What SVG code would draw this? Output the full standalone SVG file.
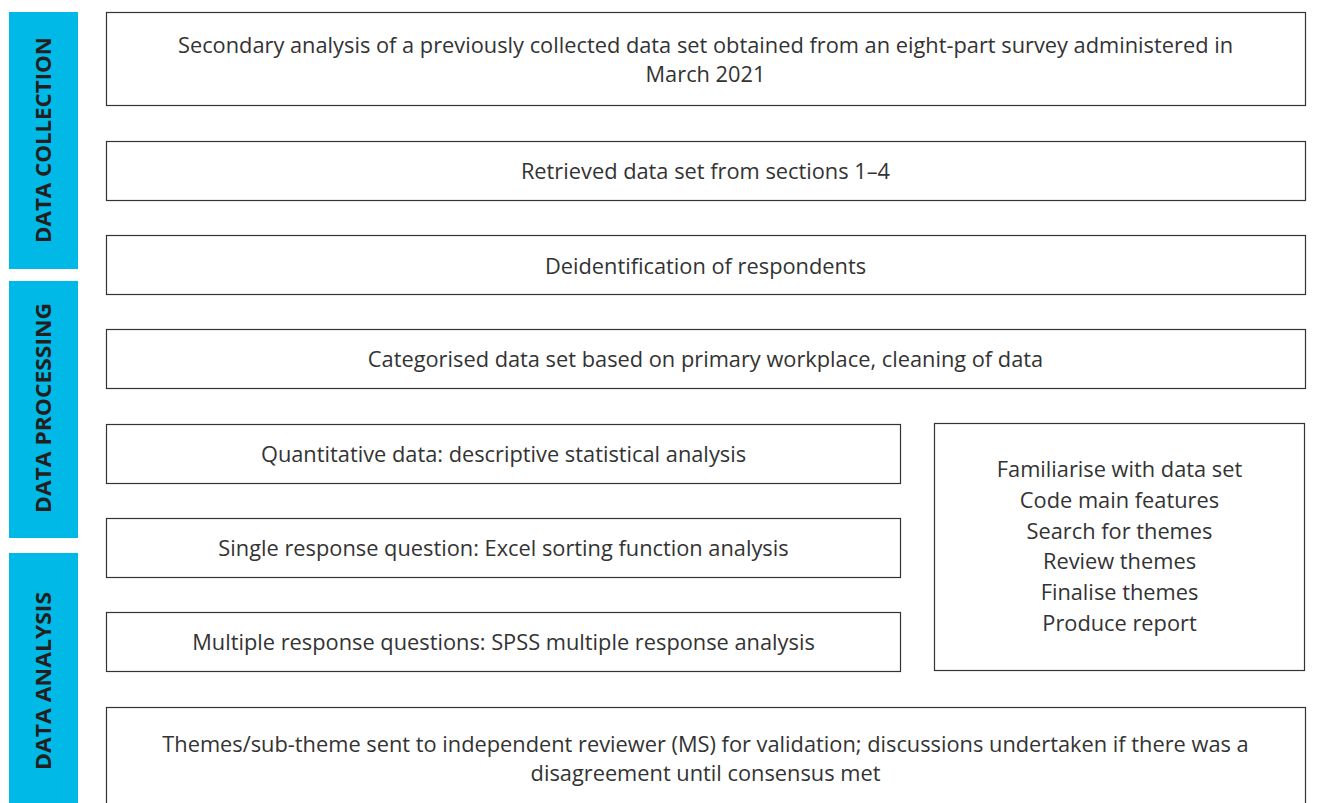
<svg xmlns="http://www.w3.org/2000/svg" width="1334" height="803" viewBox="0 0 1334 803">
<style>
.bar{fill:#00B9E7}
.lab{font-family:"Open Sans","Liberation Sans",sans-serif;font-weight:bold;font-size:21px;fill:#231f20;text-anchor:middle}
.box{fill:#fff;stroke:#333;stroke-width:1.2}
.t{font-family:"Open Sans","Liberation Sans",sans-serif;font-size:21.8px;fill:#333;text-anchor:middle}
</style>
<rect width="1334" height="803" fill="#fff"/>
<g id="phase-collection">
<rect class="bar" x="9" y="12" width="69" height="257"/>
<text class="lab" transform="translate(51,140) rotate(-90)" textLength="206" lengthAdjust="spacingAndGlyphs">DATA COLLECTION</text>
</g>
<g id="phase-processing">
<rect class="bar" x="9" y="281" width="69" height="257"/>
<text class="lab" transform="translate(51,408) rotate(-90)" textLength="210" lengthAdjust="spacingAndGlyphs">DATA PROCESSING</text>
</g>
<g id="phase-analysis">
<rect class="bar" x="9" y="553" width="69" height="250"/>
<text class="lab" transform="translate(51,681) rotate(-90)" textLength="178" lengthAdjust="spacingAndGlyphs">DATA ANALYSIS</text>
</g>
<g id="connectors"></g>
<g id="n1">
<rect class="box" x="106.5" y="12.5" width="1199" height="93"/>
<text class="t" x="705.5" y="53">Secondary analysis of a previously collected data set obtained from an eight-part survey administered in</text>
<text class="t" x="705.5" y="82">March 2021</text>
</g>
<g id="n2">
<rect class="box" x="106.5" y="141.5" width="1199" height="59"/>
<text class="t" x="705.5" y="179">Retrieved data set from sections 1–4</text>
</g>
<g id="n3">
<rect class="box" x="106.5" y="235.5" width="1199" height="59"/>
<text class="t" x="705.5" y="274">Deidentification of respondents</text>
</g>
<g id="n4">
<rect class="box" x="106.5" y="329.5" width="1199" height="59"/>
<text class="t" x="705.5" y="367">Categorised data set based on primary workplace, cleaning of data</text>
</g>
<g id="n5">
<rect class="box" x="106.5" y="424.5" width="794" height="59"/>
<text class="t" x="503.5" y="462">Quantitative data: descriptive statistical analysis</text>
</g>
<g id="n6">
<rect class="box" x="106.5" y="518.5" width="794" height="59"/>
<text class="t" x="503.5" y="556">Single response question: Excel sorting function analysis</text>
</g>
<g id="n7">
<rect class="box" x="106.5" y="612.5" width="794" height="59"/>
<text class="t" x="503.5" y="650">Multiple response questions: SPSS multiple response analysis</text>
</g>
<g id="n8">
<rect class="box" x="934.5" y="423.5" width="370" height="247"/>
<text class="t" x="1119.5" y="477">Familiarise with data set</text>
<text class="t" x="1119.5" y="507.8">Code main features</text>
<text class="t" x="1119.5" y="538.6">Search for themes</text>
<text class="t" x="1119.5" y="569.4">Review themes</text>
<text class="t" x="1119.5" y="600.2">Finalise themes</text>
<text class="t" x="1119.5" y="631">Produce report</text>
</g>
<g id="n9">
<rect class="box" x="106.5" y="707.5" width="1199" height="100"/>
<text class="t" x="705.5" y="752">Themes/sub-theme sent to independent reviewer (MS) for validation; discussions undertaken if there was a</text>
<text class="t" x="705.5" y="781">disagreement until consensus met</text>
</g>
</svg>
